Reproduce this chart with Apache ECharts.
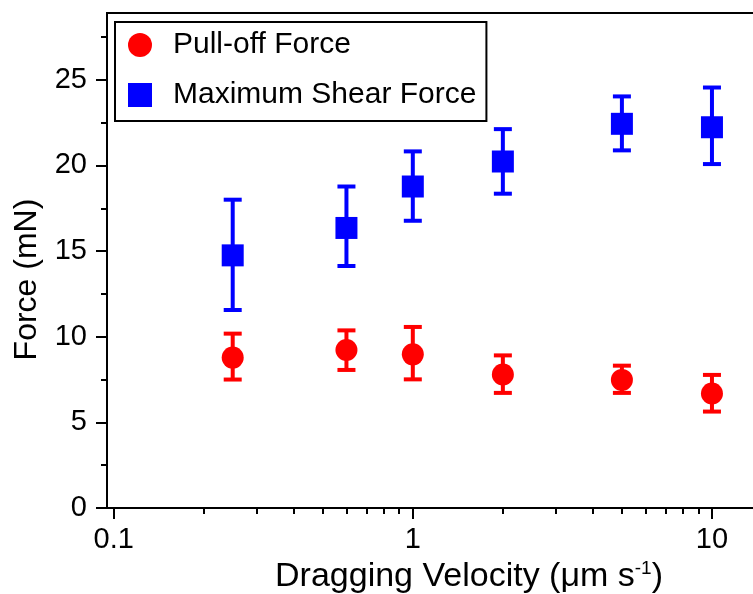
<!DOCTYPE html>
<html>
<head>
<meta charset="utf-8">
<script src="https://cdn.jsdelivr.net/npm/echarts@6/dist/echarts.min.js"></script>
<style>
  html, body { margin: 0; padding: 0; background: #fff; overflow: hidden; }
  #chart { width: 840px; height: 594px; }
</style>
</head>
<body>
<div id="chart"></div>
<script>
// velocity (um/s)
var velocity = [0.25, 0.6, 1, 2, 5, 10];

// pull-off force, mean and error bar ends (mN)
var pullOff = [8.78, 9.23, 8.97, 7.79, 7.48, 6.68];
var pullOffHigh = [10.18, 10.37, 10.57, 8.91, 8.31, 7.77];
var pullOffLow = [7.50, 8.06, 7.51, 6.72, 6.72, 5.63];

// maximum shear force
var shear = [14.75, 16.35, 18.77, 20.23, 22.43, 22.23];
var shearHigh = [18.00, 18.77, 20.82, 22.12, 24.03, 24.55];
var shearLow = [11.56, 14.13, 16.77, 18.35, 20.88, 20.08];

// axis ticks
var xMajor = [0.1, 1, 10];
var xMinor = [0.2, 0.3, 0.4, 0.5, 0.6, 0.7, 0.8, 0.9, 2, 3, 4, 5, 6, 7, 8, 9, 20];
var yMajor = [0, 5, 10, 15, 20, 25];
var yMinor = [2.5, 7.5, 12.5, 17.5, 22.5, 27.5];

var xMin = 0.095, xMax = 25;
var yMin = 0, yMax = 28.9;

var FONT = 'Liberation Sans, Arial, sans-serif';

function pairs(xs, ys) {
    var out = [];
    for (var i = 0; i < xs.length; i++) out.push([xs[i], ys[i]]);
    return out;
}
function bars(xs, lo, hi) {
    var out = [];
    for (var i = 0; i < xs.length; i++) out.push([xs[i], lo[i], hi[i]]);
    return out;
}

//误差棒
function errorBar(color) {
    return function (params, api) {
        var x = api.value(0);
        var lo = api.coord([x, api.value(1)]);
        var hi = api.coord([x, api.value(2)]);
        var half = 9;
        var style = { stroke: color, lineWidth: 4 };
        return {
            type: 'group',
            children: [
                { type: 'line', shape: { x1: lo[0], y1: lo[1], x2: hi[0], y2: hi[1] }, style: style },
                { type: 'line', shape: { x1: hi[0] - half, y1: hi[1], x2: hi[0] + half, y2: hi[1] }, style: style },
                { type: 'line', shape: { x1: lo[0] - half, y1: lo[1], x2: lo[0] + half, y2: lo[1] }, style: style }
            ]
        };
    };
}

var chart = echarts.init(document.getElementById('chart'));

var axisLine = { show: true, lineStyle: { color: '#000', width: 2 } };

var option = {
    animation: false,
    backgroundColor: '#fff',
    grid: {
        left: 107, top: 13, width: 724, bottom: 86,
        outerBoundsMode: 'none',
        containLabel: false,
        show: true, borderColor: '#000', borderWidth: 2, backgroundColor: 'transparent'
    },
    legend: {
        orient: 'vertical',
        left: 115, top: 22,
        padding: [8, 10, 11, 13],
        itemGap: 20,
        itemWidth: 24, itemHeight: 24,
        borderColor: '#000', borderWidth: 2,
        backgroundColor: '#fff',
        data: ['Pull-off Force', 'Maximum Shear Force'],
        textStyle: { fontFamily: FONT, fontSize: 30, color: '#000', lineHeight: 30, padding: [0, 0, 0, 16] }
    },
    xAxis: [{
        type: 'log',
        min: xMin, max: xMax,
        axisLine: axisLine,
        axisTick: { show: true, inside: false, length: 11, customValues: xMajor, lineStyle: { color: '#000', width: 2 } },
        axisLabel: { customValues: xMajor, margin: 17, fontFamily: FONT, fontSize: 29, color: '#000' },
        splitLine: { show: false },
        name: 'Dragging Velocity (μm s{sup|-1})',
        nameLocation: 'middle',
        nameGap: 41,
        nameTextStyle: {
            fontFamily: FONT, fontSize: 34, color: '#000', lineHeight: 36,
            rich: { sup: { fontFamily: FONT, fontSize: 19, verticalAlign: 'top', lineHeight: 36, color: '#000' } }
        }
    }, {
        type: 'log',
        min: xMin, max: xMax,
        position: 'bottom',
        axisLine: { show: false },
        axisTick: { show: true, length: 6, customValues: xMinor, lineStyle: { color: '#000', width: 2 } },
        axisLabel: { show: false },
        splitLine: { show: false }
    }],
    yAxis: [{
        type: 'value',
        min: yMin, max: yMax,
        axisLine: axisLine,
        axisTick: { show: true, length: 11, customValues: yMajor, lineStyle: { color: '#000', width: 2 } },
        axisLabel: { customValues: yMajor, margin: 20, fontFamily: FONT, fontSize: 29, color: '#000' },
        splitLine: { show: false },
        name: 'Force (mN)',
        nameLocation: 'middle',
        nameGap: 64,
        nameTextStyle: { fontFamily: FONT, fontSize: 32, color: '#000', padding: [0, 38, 0, 0] }
    }, {
        type: 'value',
        min: yMin, max: yMax,
        position: 'left',
        axisLine: { show: false },
        axisTick: { show: true, length: 6, customValues: yMinor, lineStyle: { color: '#000', width: 2 } },
        axisLabel: { show: false },
        splitLine: { show: false }
    }],
    series: [
        {
            name: 'Pull-off Force bars', type: 'custom', xAxisIndex: 0, yAxisIndex: 0,
            renderItem: errorBar('#ff0000'),
            encode: { x: 0, y: [1, 2] },
            data: bars(velocity, pullOffLow, pullOffHigh), z: 2
        },
        {
            name: 'Maximum Shear Force bars', type: 'custom', xAxisIndex: 0, yAxisIndex: 0,
            renderItem: errorBar('#0000ff'),
            encode: { x: 0, y: [1, 2] },
            data: bars(velocity, shearLow, shearHigh), z: 2
        },
        {
            name: 'Pull-off Force', type: 'scatter', xAxisIndex: 0, yAxisIndex: 0,
            symbol: 'circle', symbolSize: 22,
            itemStyle: { color: '#ff0000', opacity: 1 },
            data: pairs(velocity, pullOff), z: 3
        },
        {
            name: 'Maximum Shear Force', type: 'scatter', xAxisIndex: 0, yAxisIndex: 0,
            symbol: 'rect', symbolSize: 22,
            itemStyle: { color: '#0000ff', opacity: 1 },
            data: pairs(velocity, shear), z: 3
        }
    ]
};

chart.setOption(option);
</script>
</body>
</html>
